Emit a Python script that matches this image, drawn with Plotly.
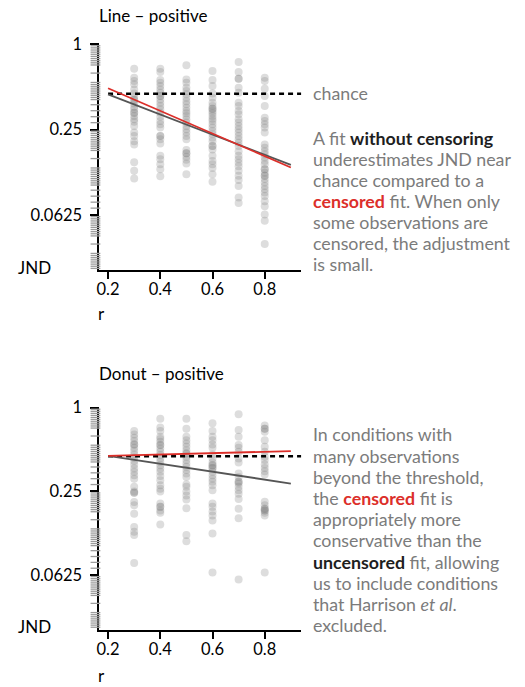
import plotly.graph_objects as go

# ---------------------------------------------------------------- data
r_levels = [0.3, 0.4, 0.5, 0.6, 0.7, 0.8]
y_tick_vals = [1, 0.25, 0.0625]
y_tick_text = ["1", "0.25", "0.0625"]
x_tick_vals = [0.2, 0.4, 0.6, 0.8]
x_tick_text = ["0.2", "0.4", "0.6", "0.8"]

chance_jnd = 0.447
chance_r = [0.2, 0.94]
fit_r = [0.2, 0.9]

# Line – positive: observed JND per correlation level
line_03 = [0.670, 0.579, 0.549, 0.520, 0.479, 0.449, 0.425, 0.403, 0.381, 0.362,
           0.347, 0.328, 0.311, 0.295, 0.283, 0.265, 0.238, 0.225, 0.207, 0.196,
           0.147, 0.128, 0.113, 0.403, 0.328]
line_04 = [0.670, 0.635, 0.557, 0.534, 0.506, 0.479, 0.454, 0.430, 0.407, 0.386,
           0.366, 0.347, 0.328, 0.308, 0.287, 0.272, 0.258, 0.225, 0.213, 0.199,
           0.163, 0.154, 0.142, 0.131, 0.117, 0.430, 0.225]
line_05 = [0.708, 0.563, 0.534, 0.492, 0.466, 0.442, 0.418, 0.396, 0.376, 0.356,
           0.337, 0.325, 0.311, 0.295, 0.280, 0.265, 0.251, 0.238, 0.225, 0.213,
           0.179, 0.170, 0.161, 0.153, 0.144, 0.121, 0.170]
line_06 = [0.645, 0.557, 0.506, 0.449, 0.418, 0.386, 0.366, 0.350, 0.337, 0.325,
           0.311, 0.298, 0.287, 0.272, 0.258, 0.244, 0.231, 0.219, 0.207, 0.191,
           0.181, 0.163, 0.150, 0.142, 0.134, 0.121, 0.107, 0.350, 0.191]
line_07 = [0.747, 0.635, 0.570, 0.492, 0.454, 0.386, 0.366, 0.337, 0.320, 0.295,
           0.280, 0.265, 0.251, 0.238, 0.225, 0.213, 0.202, 0.191, 0.176, 0.163,
           0.154, 0.146, 0.138, 0.128, 0.118, 0.110, 0.100, 0.083, 0.076, 0.570]
line_08 = [0.579, 0.549, 0.485, 0.430, 0.366, 0.303, 0.287, 0.272, 0.258, 0.238,
           0.196, 0.186, 0.176, 0.167, 0.159, 0.150, 0.142, 0.131, 0.124, 0.118,
           0.112, 0.106, 0.100, 0.095, 0.090, 0.085, 0.078, 0.072, 0.063, 0.057,
           0.039, 0.131, 0.118]

# Donut – positive: observed JND per correlation level
donut_03 = [0.679, 0.641, 0.607, 0.574, 0.543, 0.514, 0.486, 0.460, 0.436, 0.412,
            0.389, 0.364, 0.345, 0.326, 0.308, 0.269, 0.249, 0.244, 0.209, 0.198,
            0.172, 0.138, 0.128, 0.121, 0.076, 0.543, 0.244]
donut_04 = [0.830, 0.718, 0.679, 0.617, 0.593, 0.567, 0.537, 0.508, 0.481, 0.455,
            0.430, 0.407, 0.385, 0.364, 0.345, 0.322, 0.300, 0.276, 0.261, 0.249,
            0.204, 0.193, 0.182, 0.175, 0.144, 0.537, 0.193]
donut_05 = [0.830, 0.704, 0.617, 0.583, 0.552, 0.522, 0.494, 0.468, 0.443, 0.419,
            0.396, 0.375, 0.355, 0.335, 0.317, 0.279, 0.269, 0.249, 0.233, 0.218,
            0.189, 0.121, 0.109, 0.468]
donut_06 = [0.771, 0.679, 0.617, 0.583, 0.543, 0.514, 0.460, 0.430, 0.402, 0.385,
            0.368, 0.345, 0.326, 0.308, 0.292, 0.276, 0.254, 0.204, 0.193, 0.179,
            0.167, 0.154, 0.124, 0.065, 0.385, 0.368]
donut_07 = [0.896, 0.690, 0.617, 0.537, 0.514, 0.481, 0.430, 0.402, 0.335, 0.317,
            0.292, 0.284, 0.269, 0.254, 0.240, 0.220, 0.187, 0.160, 0.058, 0.292]
donut_08 = [0.742, 0.704, 0.671, 0.583, 0.522, 0.481, 0.443, 0.419, 0.389, 0.368,
            0.348, 0.330, 0.210, 0.198, 0.187, 0.182, 0.175, 0.167, 0.065, 0.704,
            0.182, 0.187]

# fitted JND at the ends of the fit range
line_fit_uncensored = [0.442, 0.141]
line_fit_censored = [0.488, 0.135]
donut_fit_uncensored = [0.449, 0.284]
donut_fit_censored = [0.449, 0.486]

# rug of stimulus levels: offsets (log2 units) repeating every two octaves
rug_offsets = [0.04, 0.09, 0.14, 0.19, 0.24, 0.29, 0.34, 0.39, 0.44, 0.49,
               0.68,
               0.90, 0.95, 1.00, 1.05, 1.10, 1.15, 1.20, 1.25, 1.30,
               1.42, 1.56, 1.70, 1.84]

top_lines = [
    "A fit <b><span style='color:#1e1e1e'>without censoring</span></b>",
    "underestimates JND near",
    "chance compared to a",
    "<b><span style='color:#dc2f2a'>censored</span></b> fit. When only",
    "some observations are",
    "censored, the adjustment",
    "is small.",
]
bottom_lines = [
    "In conditions with",
    "many observations",
    "beyond the threshold,",
    "the <b><span style='color:#dc2f2a'>censored</span></b> fit is",
    "appropriately more",
    "conservative than the",
    "<b><span style='color:#1e1e1e'>uncensored</span></b> fit, allowing",
    "us to include conditions",
    "that Harrison <i>et al</i>.",
    "excluded.",
]

# ---------------------------------------------------------------- style
FONT = "Lato, 'Open Sans', sans-serif"
RED = "#dc2f2a"
DARK = "#555555"
TEXT_GRAY = "#7b7b7b"
POINT = "rgba(125,125,125,0.26)"
W, H = 525, 687

rug_vals = [2 ** -(o + 2 * k) for k in range(3) for o in rug_offsets
            if o + 2 * k <= 5.28]

panels = [
    dict(cols=[line_03, line_04, line_05, line_06, line_07, line_08],
         unc=line_fit_uncensored, cen=line_fit_censored, xa="x", ya="y", rug="x3"),
    dict(cols=[donut_03, donut_04, donut_05, donut_06, donut_07, donut_08],
         unc=donut_fit_uncensored, cen=donut_fit_censored, xa="x2", ya="y2", rug="x4"),
]

fig = go.Figure()
for p in panels:
    xs, ys = [], []
    for r, col in zip(r_levels, p["cols"]):
        xs += [r] * len(col)
        ys += col
    fig.add_trace(go.Scatter(
        x=xs, y=ys, mode="markers", xaxis=p["xa"], yaxis=p["ya"],
        marker=dict(size=8, color=POINT, line=dict(width=0)),
        hoverinfo="skip", showlegend=False))
    fig.add_trace(go.Scatter(
        x=chance_r, y=[chance_jnd, chance_jnd], mode="lines",
        xaxis=p["xa"], yaxis=p["ya"],
        line=dict(color="black", width=2.5, dash="5px,4px"),
        showlegend=False, hoverinfo="skip", cliponaxis=False))
    fig.add_trace(go.Scatter(
        x=fit_r, y=p["unc"], mode="lines", xaxis=p["xa"], yaxis=p["ya"],
        line=dict(color=DARK, width=1.8), showlegend=False, hoverinfo="skip"))
    fig.add_trace(go.Scatter(
        x=fit_r, y=p["cen"], mode="lines", xaxis=p["xa"], yaxis=p["ya"],
        line=dict(color=RED, width=1.8), showlegend=False, hoverinfo="skip"))
    # rug ticks beside the JND axis
    fig.add_trace(go.Scatter(
        x=[0.5] * len(rug_vals), y=rug_vals, mode="markers",
        xaxis=p["rug"], yaxis=p["ya"], cliponaxis=False,
        marker=dict(symbol="line-ew", size=7,
                    line=dict(color="#9c9c9c", width=1.3)),
        showlegend=False, hoverinfo="skip"))

xaxis_style = dict(
    range=[0.167, 0.94], showline=True, linecolor="black", linewidth=2,
    ticks="outside", ticklen=7, tickwidth=2, tickcolor="black",
    tickvals=x_tick_vals, ticktext=x_tick_text, showgrid=False, zeroline=False,
    tickfont=dict(family=FONT, size=16.5, color="black"), ticklabelstandoff=-4,
    domain=[97 / W, 300 / W])
rug_axis = dict(range=[0, 1], visible=False, domain=[89.5 / W, 96.5 / W])
yaxis_style = dict(
    type="log", showline=True, linecolor="black", linewidth=2,
    ticks="outside", ticklen=7, tickwidth=2, tickcolor="black",
    tickvals=y_tick_vals, ticktext=y_tick_text, showgrid=False, zeroline=False,
    tickfont=dict(family=FONT, size=16.5, color="black"), ticklabelstandoff=5)

fig.update_layout(
    width=W, height=H, margin=dict(l=0, r=0, t=0, b=0),
    paper_bgcolor="white", plot_bgcolor="rgba(0,0,0,0)",
    font=dict(family=FONT, size=17, color="black"),
    xaxis=dict(xaxis_style, anchor="y"),
    yaxis=dict(yaxis_style, anchor="x", range=[-1.592, 0.009],
               domain=[1 - 264.5 / H, 1 - 34.2 / H]),
    xaxis2=dict(xaxis_style, anchor="y2"),
    yaxis2=dict(yaxis_style, anchor="x2", range=[-1.60, 0.006],
                domain=[1 - 629.2 / H, 1 - 403.0 / H]),
    xaxis3=dict(rug_axis, anchor="y"),
    xaxis4=dict(rug_axis, anchor="y2"),
)


def note(text, x_px, y_px, color="black", size=17, valign="middle"):
    fig.add_annotation(
        text=text, xref="paper", yref="paper", x=x_px / W, y=1 - y_px / H,
        xanchor="left", yanchor=valign, showarrow=False, align="left",
        borderpad=0, font=dict(family=FONT, size=size, color=color))


note("Line – positive", 96, 6.5)
note("Donut – positive", 96, 369)
note("JND", 14, 262.4)
note("JND", 14, 626)
note("r", 95, 308.5)
note("r", 95, H, valign="bottom")
note("chance", 311, 85, color=TEXT_GRAY, size=17.8)

for i, t in enumerate(top_lines):
    note(t, 311, 130.5 + 21.38 * i, color=TEXT_GRAY, size=17.8)
for i, t in enumerate(bottom_lines):
    note(t, 311, 431.0 + 21.48 * i, color=TEXT_GRAY, size=17.8)

fig.write_html("out.html")
